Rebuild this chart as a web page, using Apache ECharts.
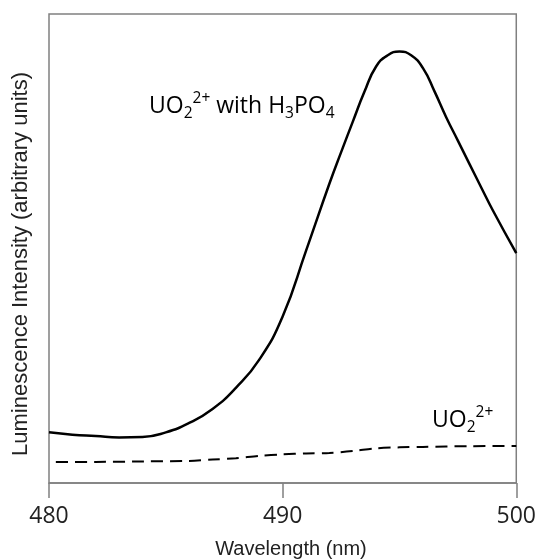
<!DOCTYPE html>
<html>
<head>
<meta charset="utf-8">
<script src="https://cdn.jsdelivr.net/npm/echarts@6/dist/echarts.min.js"></script>
<style>
  html, body { margin: 0; padding: 0; background: #fff; }
  #chart { width: 539px; height: 559px; }
</style>
</head>
<body>
<div id="chart"></div>
<script>
// wavelength (nm) and intensity (arbitrary units, 0-100 scale)
var withAcidX = [480, 481, 482, 483, 484, 485, 486, 487, 488, 489, 490, 491, 492, 492.5, 493, 493.5, 494, 494.5, 495, 495.5, 496, 496.5, 497, 497.5, 498, 498.5, 499, 500];
var withAcidY = [10.8, 10.3, 10.0, 9.7, 9.8, 10.8, 12.8, 15.8, 20.3, 26.3, 35.5, 49.5, 63.8, 70.5, 77.0, 83.4, 88.8, 91.2, 92.0, 91.2, 88.5, 83.5, 78.0, 73.0, 68.0, 63.0, 58.1, 49.0];

var uranylX = [480, 482, 484, 486, 487, 488, 489, 490, 491, 492, 493, 494, 495, 496, 498, 500];
var uranylY = [4.5, 4.5, 4.6, 4.7, 5.0, 5.3, 5.8, 6.1, 6.3, 6.4, 6.8, 7.4, 7.6, 7.7, 7.85, 7.9];

var xTicks = [480, 490, 500];

var zip = function(xs, ys){
    return xs.map(function(x, i){ return [x, ys[i]]; });
};

var myChart = echarts.init(document.getElementById('chart'));

var labelRich = {
    a: {fontFamily: 'Open Sans', fontSize: 23, color: '#111', lineHeight: 31, verticalAlign: 'middle'},
    b: {fontFamily: 'Open Sans', fontSize: 15.5, color: '#111', lineHeight: 15, verticalAlign: 'bottom'},
    c: {fontFamily: 'Open Sans', fontSize: 15.5, color: '#111', lineHeight: 15, verticalAlign: 'top'}
};

var option = {
    backgroundColor: '#fff',
    animation: false,
    grid: {
        left: 49, top: 14, right: 21, bottom: 76,
        show: true,
        borderColor: '#808080',
        borderWidth: 1.5
    },
    xAxis: {
        type: 'value',
        min: xTicks[0],
        max: xTicks[xTicks.length - 1],
        interval: xTicks[1] - xTicks[0],
        axisLine: {show: true, lineStyle: {color: '#808080', width: 1.5}},
        axisTick: {show: true, inside: false, length: 15, lineStyle: {color: '#808080', width: 1.5}},
        axisLabel: {fontFamily: 'Open Sans', fontSize: 23, color: '#222', margin: 22},
        splitLine: {show: false}
    },
    yAxis: {
        type: 'value',
        min: 0,
        max: 100,
        axisLine: {show: false},
        axisTick: {show: false},
        axisLabel: {show: false},
        splitLine: {show: false}
    },
    graphic: [
        {
            type: 'text',
            x: 291, y: 549,
            style: {
                text: 'Wavelength (nm)',
                fontFamily: 'Liberation Sans', fontSize: 20, fill: '#222',
                align: 'center', verticalAlign: 'middle'
            }
        },
        {
            type: 'text',
            x: 21, y: 264,
            rotation: Math.PI / 2,
            style: {
                text: 'Luminescence Intensity (arbitrary units)',
                fontFamily: 'Liberation Sans', fontSize: 22, fill: '#222',
                align: 'center', verticalAlign: 'middle'
            }
        },
        {
            type: 'text',
            x: 149, y: 91,
            style: {
                text: '{a|UO}{b|2}{c|2+}{a| with H}{b|3}{a|PO}{b|4}',
                rich: labelRich,
                verticalAlign: 'top'
            }
        },
        {
            type: 'text',
            x: 432, y: 405,
            style: {
                text: '{a|UO}{b|2}{c|2+}',
                rich: labelRich,
                verticalAlign: 'top'
            }
        }
    ],
    series: [
        {
            name: 'UO2 2+ with H3PO4',
            type: 'line',
            data: zip(withAcidX, withAcidY),
            smooth: 0.5,
            showSymbol: false,
            lineStyle: {color: '#000', width: 2.5}
        },
        {
            name: 'UO2 2+',
            type: 'line',
            data: zip(uranylX, uranylY),
            smooth: 0.3,
            showSymbol: false,
            lineStyle: {color: '#000', width: 2, type: [12, 7], dashOffset: 12}
        }
    ]
};

myChart.setOption(option);
</script>
</body>
</html>
